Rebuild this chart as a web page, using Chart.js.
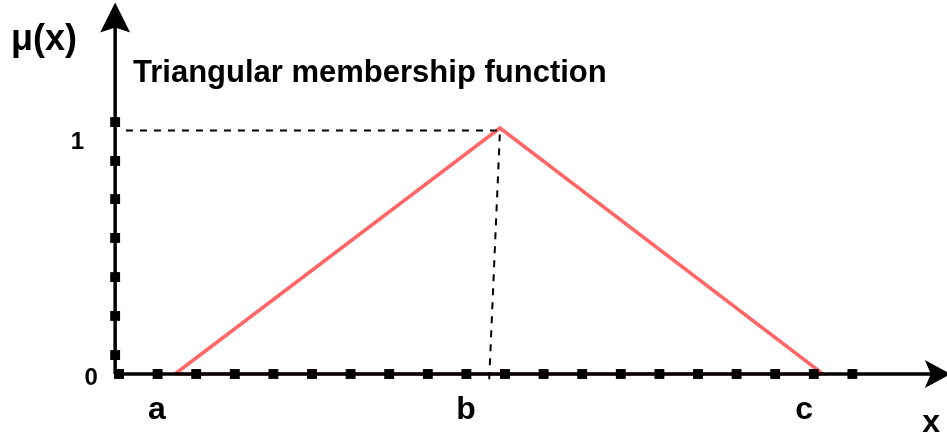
<!DOCTYPE html>
<html><head><meta charset="utf-8">
<script src="https://cdn.jsdelivr.net/npm/chart.js@4.4.1/dist/chart.umd.min.js"></script>
<style>html,body{margin:0;padding:0;background:#fff;overflow:hidden}#wrap{width:947px;height:438px;position:relative}</style>
</head><body><div id="wrap"><canvas id="c"></canvas></div>
<script>
// Triangular membership function: vertices a, b, c
const pointNames = ['a', 'b', 'c'];
const pointX = [1.45, 9.87, 18.24];
const membership = [0, 1, 0];
// where the a/b/c names sit under the axis
const nameX = [0.98, 8.99, 17.75];
// dashed guide lines (to the y-axis at μ=1 and down to the x-axis)
const guideX = [0.18, 9.87, 9.59];
const guideY = [0.99, 0.99, -0.025];
// square markers along the axes
const xMarks = [0, 1, 2, 3, 4, 5, 6, 7, 8, 9, 10, 11, 12, 13, 14, 15, 16, 17, 18, 19];
const yMarks = [0.077, 0.236, 0.394, 0.553, 0.711, 0.866, 1.024];
// y tick labels
const yTickLabels = ['0', '1'];
const yTickValues = [0, 1];
// axis geometry (data units)
const axisX0 = -0.1, axisXEnd = 21.25, axisXTip = 21.55;
const axisYEnd = 1.43, axisYTip = 1.51;
const titleText = 'Triangular membership function';
const yAxisTitle = 'μ(x)';
const xAxisTitle = 'x';

const FONT = '"Liberation Sans", Arial, sans-serif';

const tri = pointX.map((x, i) => ({x, y: membership[i]}));
tri.push({x: pointX[0], y: membership[0]});

const overlay = {
  id: 'overlay',
  afterDatasetsDraw(chart) {
    const ctx = chart.ctx, xs = chart.scales.x, ys = chart.scales.y;
    const px = v => xs.getPixelForValue(v), py = v => ys.getPixelForValue(v);
    ctx.save();
    ctx.fillStyle = '#000';
    // up arrow
    let tx = px(axisX0), ty = py(axisYTip);
    ctx.beginPath();
    ctx.moveTo(tx, ty);
    ctx.lineTo(tx + 15, ty + 30);
    ctx.lineTo(tx, ty + 25);
    ctx.lineTo(tx - 15, ty + 30);
    ctx.closePath(); ctx.fill();
    // right arrow
    tx = px(axisXTip); ty = py(0);
    ctx.beginPath();
    ctx.moveTo(tx, ty);
    ctx.lineTo(tx - 26, ty - 14);
    ctx.lineTo(tx - 20, ty);
    ctx.lineTo(tx - 26, ty + 14);
    ctx.closePath(); ctx.fill();
    // texts
    ctx.textBaseline = 'alphabetic';
    ctx.font = 'bold 36px ' + FONT;
    ctx.textAlign = 'center';
    ctx.fillText(yAxisTitle, px(-1.943), py(1.317));
    ctx.font = 'bold 31px ' + FONT;
    ctx.textAlign = 'left';
    ctx.fillText(titleText, px(0.363), py(1.187));
    ctx.textAlign = 'center';
    ctx.font = 'bold 32px ' + FONT;
    pointNames.forEach((n, i) => ctx.fillText(n, px(nameX[i]), py(-0.183)));
    ctx.fillText(xAxisTitle, px(21.04), py(-0.236));
    ctx.font = 'bold 24px ' + FONT;
    const ylx = [-0.72, -1.08], yly = [-0.045, 0.915];
    yTickLabels.forEach((t, i) => ctx.fillText(t, px(ylx[i]), py(yly[i])));
    ctx.restore();
  }
};

new Chart(document.getElementById('c'), {
  type: 'scatter',
  data: {
    datasets: [
      {label: 'xmarks', data: xMarks.map(x => ({x, y: 0})), pointStyle: 'rect', pointRadius: 7, borderWidth: 0, backgroundColor: '#000', showLine: false},
      {label: 'ymarks', data: yMarks.map(y => ({x: axisX0, y})), pointStyle: 'rect', pointRadius: 7, borderWidth: 0, backgroundColor: '#000', showLine: false},
      {label: 'xaxis', data: [{x: axisX0, y: 0}, {x: axisXEnd, y: 0}], showLine: true, borderColor: '#000', borderWidth: 3.5, pointRadius: 0},
      {label: 'yaxis', data: [{x: axisX0, y: 0}, {x: axisX0, y: axisYEnd}], showLine: true, borderColor: '#000', borderWidth: 3.5, pointRadius: 0},
      {label: 'guide', data: guideX.map((x, i) => ({x, y: guideY[i]})), showLine: true, borderColor: '#000', borderWidth: 2, borderDash: [7, 7], pointRadius: 0},
      {label: 'membership', data: tri, showLine: true, borderColor: '#ff6666', borderWidth: 3.5, pointRadius: 0}
    ]
  },
  options: {
    responsive: true, maintainAspectRatio: false, animation: false,
    layout: {padding: 0, autoPadding: false},
    plugins: {legend: {display: false}, tooltip: {enabled: false}, title: {display: false}},
    scales: {
      x: {type: 'linear', display: false, min: -3.083, max: 21.451},
      y: {type: 'linear', display: false, min: -0.2602, max: 1.5203}
    }
  },
  plugins: [overlay]
});
</script></body></html>
